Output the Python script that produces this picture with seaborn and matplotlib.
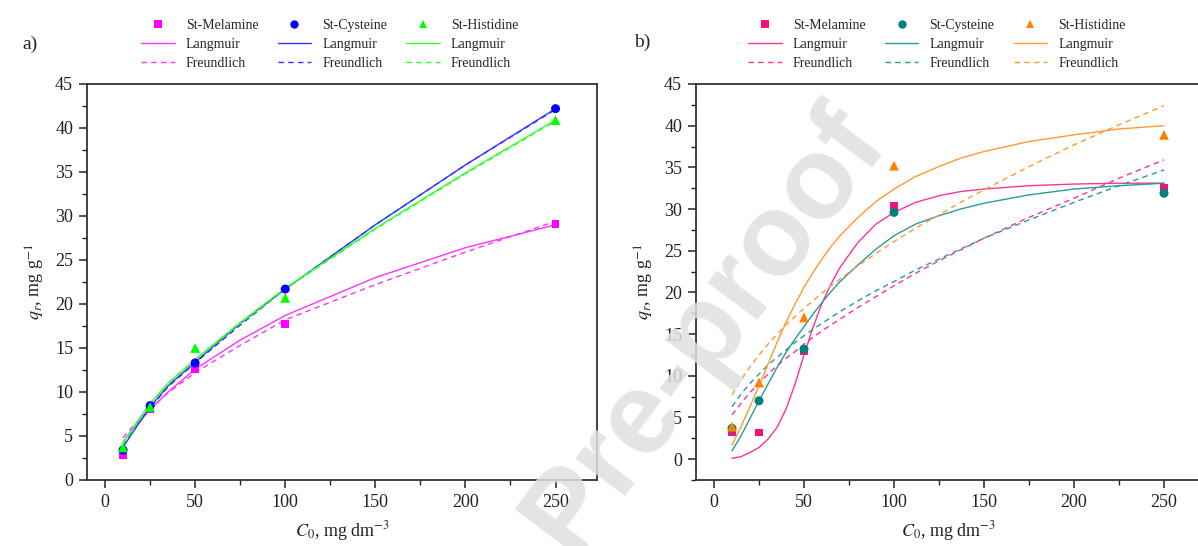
import numpy as np
import pandas as pd
import matplotlib
matplotlib.use("Agg")
import matplotlib.pyplot as plt
import seaborn as sns
from matplotlib.lines import Line2D
from matplotlib.ticker import MultipleLocator

# ---------------- data ----------------
C0 = [10, 25, 50, 100, 250]
series = ["St-Melamine", "St-Cysteine", "St-Histidine"]

# panel a – experimental points
a_mel = [2.8, 8.0, 12.6, 17.7, 29.1]
a_cys = [3.4, 8.45, 13.3, 21.7, 42.2]
a_his = [3.7, 8.3, 15.0, 20.7, 40.9]
# panel a – model curves
a_cgrid = [10, 15, 25, 35, 50, 75, 100, 150, 200, 250]
a_mel_L = [4.3, 5.7, 8.0, 10.0, 12.6, 15.9, 18.7, 23.0, 26.4, 29.0]
a_mel_F = [4.8, 6.0, 8.1, 9.9, 12.2, 15.3, 18.2, 22.2, 25.9, 29.4]
a_cys_L = [3.7, 5.3, 8.3, 10.7, 13.4, 17.8, 21.7, 29.0, 35.8, 42.2]
a_cys_F = [3.9, 5.4, 8.2, 10.6, 13.3, 17.6, 21.7, 29.0, 35.8, 42.1]
a_his_L = [4.2, 5.8, 8.7, 11.0, 13.7, 17.9, 21.8, 28.6, 34.9, 40.9]
a_his_F = [4.0, 5.6, 8.5, 10.9, 13.6, 17.8, 21.7, 28.5, 34.8, 40.8]

# panel b – experimental points
b_mel = [3.2, 3.2, 12.9, 30.4, 32.5]
b_cys = [3.7, 7.0, 13.2, 29.6, 31.9]
b_his = [3.9, 9.2, 17.0, 35.2, 38.9]
# panel b – model curves
b_cgrid = [10, 15, 20, 25, 30, 35, 40, 45, 50, 55, 60, 65, 70, 80, 90, 100,
           112, 125, 137, 150, 175, 200, 225, 250]
b_mel_L = [0.1, 0.3, 0.8, 1.4, 2.4, 3.8, 6.0, 9.0, 12.5, 15.8, 18.7, 21.0, 23.0, 26.0,
           28.2, 29.6, 30.8, 31.6, 32.1, 32.4, 32.8, 33.0, 33.1, 33.1]
b_cys_L = [1.0, 2.8, 4.9, 7.0, 9.0, 11.0, 12.8, 14.4, 15.9, 17.4, 18.8, 20.1, 21.3, 23.3,
           25.2, 26.8, 28.2, 29.2, 30.0, 30.7, 31.7, 32.4, 32.8, 33.1]
b_his_L = [1.7, 3.9, 6.3, 8.8, 11.4, 14.0, 16.4, 18.6, 20.6, 22.4, 24.0, 25.5, 26.8, 29.0,
           30.9, 32.4, 33.9, 35.1, 36.1, 36.9, 38.1, 38.9, 39.6, 40.0]
b_mel_F = [5.3, 6.7, 8.0, 9.1, 10.2, 11.2, 12.1, 12.9, 13.8, 14.6, 15.4, 16.1, 16.8, 18.2,
           19.5, 20.8, 22.3, 23.8, 25.1, 26.5, 29.0, 31.3, 33.7, 35.9]
b_cys_F = [6.3, 7.8, 9.1, 10.2, 11.3, 12.2, 13.1, 14.0, 14.8, 15.6, 16.3, 17.0, 17.7, 19.0,
           20.2, 21.3, 22.7, 24.0, 25.2, 26.5, 28.7, 30.8, 32.8, 34.7]
b_his_F = [7.7, 9.5, 11.1, 12.5, 13.8, 15.0, 16.1, 17.1, 18.1, 19.0, 19.9, 20.8, 21.6, 23.2,
           24.7, 26.1, 27.7, 29.3, 30.8, 32.3, 35.1, 37.7, 40.1, 42.4]

# ---------------- style ----------------
sns.set_style("ticks")
plt.rcParams["font.family"] = ["Liberation Serif", "DejaVu Serif"]
plt.rcParams["mathtext.fontset"] = "stix"

fig = plt.figure(figsize=(11.98, 5.46), dpi=100)
axA = fig.add_axes([87 / 1198, 66 / 546, 510 / 1198, 396 / 546])
axB = fig.add_axes([696 / 1198, 66 / 546, 504 / 1198, 396 / 546])

markers = ["s", "o", "^"]
msizes = [30, 42, 50]

def draw(ax, pts, cgrid, Ls, Fs, colors, lcolors):
    for i in range(3):
        df = pd.DataFrame({"C": cgrid, "L": Ls[i], "F": Fs[i]})
        sns.lineplot(data=df, x="C", y="L", ax=ax, color=lcolors[i], lw=1.0,
                     estimator=None, sort=False, zorder=2)
        sns.lineplot(data=df, x="C", y="F", ax=ax, color=lcolors[i], lw=1.0,
                     linestyle=(0, (4, 3)), estimator=None, sort=False, zorder=2)
    for i in range(3):
        dp = pd.DataFrame({"C": C0, "q": pts[i]})
        sns.scatterplot(data=dp, x="C", y="q", ax=ax, color=colors[i], marker=markers[i],
                        s=msizes[i], edgecolor="none", zorder=3)

colA = ["#FF00FF", "#0000FF", "#00FF00"]
lcolA = ["#FF33FF", "#3333FF", "#33FF33"]
colB = ["#F0147A", "#008080", "#FF8000"]
lcolB = ["#FF3399", "#2A9A9A", "#FF9A33"]

draw(axA, [a_mel, a_cys, a_his], a_cgrid, [a_mel_L, a_cys_L, a_his_L],
     [a_mel_F, a_cys_F, a_his_F], colA, lcolA)
draw(axB, [b_mel, b_cys, b_his], b_cgrid, [b_mel_L, b_cys_L, b_his_L],
     [b_mel_F, b_cys_F, b_his_F], colB, lcolB)

axA.set_xlim(-10, 273)
axA.set_ylim(0, 45)
axB.set_xlim(-10, 270)
axB.set_ylim(-2.5, 45)

for ax in (axA, axB):
    ax.xaxis.set_major_locator(MultipleLocator(50))
    ax.xaxis.set_minor_locator(MultipleLocator(25))
    ax.yaxis.set_major_locator(MultipleLocator(5))
    ax.yaxis.set_minor_locator(MultipleLocator(2.5))
    ax.tick_params(which="major", direction="out", length=6, width=1.1,
                   labelsize=13, colors="#222222", pad=4)
    ax.tick_params(which="minor", direction="out", length=3.5, width=1.0,
                   colors="#222222")
    for sp in ax.spines.values():
        sp.set_visible(True)
        sp.set_color("#333333")
        sp.set_linewidth(1.3)
    ax.set_xlabel(r"$C_{\mathit{0}}$, mg dm$^{-3}$", fontsize=13, color="#222222", labelpad=6)
    ax.set_ylabel(r"$q_r$, mg g$^{-1}$", fontsize=13, color="#222222", labelpad=6)
axB.set_yticks([0, 5, 10, 15, 20, 25, 30, 35, 40, 45])

def legend(ax, colors, lcolors, xc):
    handles, labels = [], []
    for i in range(3):
        handles.append(Line2D([], [], ls="none", marker=markers[i], color=colors[i],
                              markersize=6, markeredgewidth=0))
        labels.append(series[i])
        handles.append(Line2D([], [], ls="-", color=lcolors[i], lw=1.0))
        labels.append("Langmuir")
        handles.append(Line2D([], [], ls=(0, (4, 3)), color=lcolors[i], lw=1.0))
        labels.append("Freundlich")
    ax.legend(handles, labels, ncol=3, loc="center", bbox_to_anchor=(xc, 1.10),
              frameon=False, fontsize=10, handlelength=2.4, handletextpad=0.8,
              columnspacing=1.4, labelspacing=0.42, borderaxespad=0)

legend(axA, colA, lcolA, 0.476)
legend(axB, colB, lcolB, 0.478)

fig.text(22 / 1198, 1 - 44 / 546, "a)", fontsize=14, va="center", ha="left")
fig.text(634 / 1198, 1 - 42 / 546, "b)", fontsize=14, va="center", ha="left")

# watermark
fig.text(705 / 1198, 1 - 330 / 546, "Pre-proof", fontsize=84, family="Liberation Sans",
         weight="bold", color="#E0E0E0", alpha=0.85, rotation=53,
         ha="center", va="center", zorder=10)

fig.savefig("out.png", dpi=100)
